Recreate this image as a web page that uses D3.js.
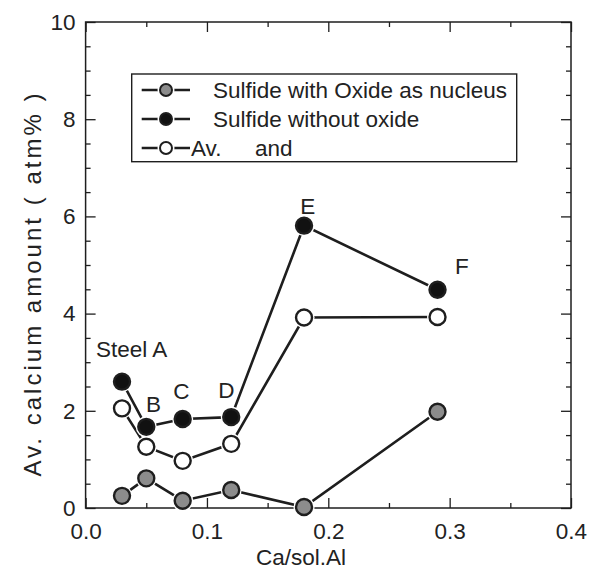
<!DOCTYPE html>
<html>
<head>
<meta charset="utf-8">
<script src="https://cdn.jsdelivr.net/npm/d3@7"></script>
<style>
  body { margin: 0; background: #fff; }
  text { font-family: "Liberation Sans", Arial, sans-serif; fill: #222; }
</style>
</head>
<body>
<div id="chart"></div>
<script>
// data
const xVals = [0.03, 0.05, 0.08, 0.12, 0.18, 0.29]
const withOxide = [0.25, 0.61, 0.15, 0.37, 0.02, 1.98]
const withoutOxide = [2.60, 1.67, 1.83, 1.87, 5.81, 4.49]
const average = [2.05, 1.26, 0.97, 1.32, 3.92, 3.93]
const steelNames = ['Steel A', 'B', 'C', 'D', 'E', 'F']
const steelLabelX = [0.038, 0.056, 0.079, 0.116, 0.183, 0.31]
const steelLabelY = [3.1, 1.98, 2.25, 2.26, 6.05, 4.82]
const xMajor = [0.0, 0.1, 0.2, 0.3, 0.4]
const xMinor = [0.05, 0.15, 0.25, 0.35]
const yMajor = [0, 2, 4, 6, 8, 10]
const yMinor = [0.5, 1, 1.5, 2.5, 3, 3.5, 4.5, 5, 5.5, 6.5, 7, 7.5, 8.5, 9, 9.5]

const W = 589, H = 570
const margin = { top: 22, right: 18, bottom: 62, left: 85.6 }
const ink = '#1e1e1e'

const svg = d3.select('#chart').append('svg')
    .attr('width', W)
    .attr('height', H)

const xScale = d3.scaleLinear()
    .domain([0, 0.4])
    .range([margin.left, W - margin.right])

const yScale = d3.scaleLinear()
    .domain([0, 10])
    .range([H - margin.bottom, margin.top])

const fontSize = 22.5

// axes, ticks pointing inward
function styleAxis(g) {
    g.select('.domain').remove()
    g.selectAll('line').attr('stroke', ink).attr('stroke-width', 1.3)
    g.selectAll('text').style('font-size', fontSize + 'px').attr('fill', '#222')
}
const y0 = yScale(0), x0 = xScale(0), x1 = xScale(0.4), y1 = yScale(10)

svg.append('g').attr('transform', `translate(0,${y0})`)
    .call(d3.axisBottom(xScale).tickValues(xMajor).tickSizeInner(-10).tickSizeOuter(0)
        .tickPadding(15).tickFormat(d3.format('.1f')))
    .call(styleAxis)
svg.append('g').attr('transform', `translate(0,${y0})`)
    .call(d3.axisBottom(xScale).tickValues(xMinor).tickSizeInner(-5).tickSizeOuter(0).tickFormat(''))
    .call(styleAxis)
svg.append('g').attr('transform', `translate(0,${y1})`)
    .call(d3.axisTop(xScale).tickValues(xMajor).tickSizeInner(-10).tickSizeOuter(0).tickFormat(''))
    .call(styleAxis)
svg.append('g').attr('transform', `translate(0,${y1})`)
    .call(d3.axisTop(xScale).tickValues(xMinor).tickSizeInner(-5).tickSizeOuter(0).tickFormat(''))
    .call(styleAxis)

svg.append('g').attr('transform', `translate(${x0},0)`)
    .call(d3.axisLeft(yScale).tickValues(yMajor).tickSizeInner(-10).tickSizeOuter(0)
        .tickPadding(10).tickFormat(d3.format('d')))
    .call(styleAxis)
svg.append('g').attr('transform', `translate(${x0},0)`)
    .call(d3.axisLeft(yScale).tickValues(yMinor).tickSizeInner(-5).tickSizeOuter(0).tickFormat(''))
    .call(styleAxis)
svg.append('g').attr('transform', `translate(${x1},0)`)
    .call(d3.axisRight(yScale).tickValues(yMajor).tickSizeInner(-10).tickSizeOuter(0).tickFormat(''))
    .call(styleAxis)
svg.append('g').attr('transform', `translate(${x1},0)`)
    .call(d3.axisRight(yScale).tickValues(yMinor).tickSizeInner(-5).tickSizeOuter(0).tickFormat(''))
    .call(styleAxis)

// frame
svg.append('rect')
    .attr('x', x0).attr('y', y1)
    .attr('width', x1 - x0).attr('height', y0 - y1)
    .attr('fill', 'none').attr('stroke', ink).attr('stroke-width', 1.5)

// axis titles
svg.append('text')
    .attr('x', 301).attr('y', 565)
    .attr('text-anchor', 'middle')
    .style('font-size', fontSize + 'px')
    .text('Ca/sol.Al')

svg.append('text')
    .attr('transform', 'translate(41,285) rotate(-90)')
    .attr('text-anchor', 'middle')
    .attr('textLength', 383)
    .attr('lengthAdjust', 'spacing')
    .style('font-size', '24px')
    .text('Av. calcium amount ( atm% )')

// series
const series = [
    { values: withOxide, fill: '#8c8c8c' },
    { values: average, fill: '#ffffff' },
    { values: withoutOxide, fill: '#111111' }
]
const line = d3.line()
    .x(d => xScale(d[0]))
    .y(d => yScale(d[1]))

const r = 8
series.forEach(s => {
    const pts = xVals.map((x, i) => [x, s.values[i]])
    svg.append('path')
        .datum(pts)
        .attr('d', line)
        .attr('fill', 'none')
        .attr('stroke', ink)
        .attr('stroke-width', 2.6)
})
series.forEach(s => {
    const pts = xVals.map((x, i) => [x, s.values[i]])
    const g = svg.append('g')
    g.selectAll('.halo').data(pts).join('circle')
        .attr('cx', d => xScale(d[0])).attr('cy', d => yScale(d[1]))
        .attr('r', r + 2.5).attr('fill', '#fff')
    g.selectAll('.dot').data(pts).join('circle')
        .attr('cx', d => xScale(d[0])).attr('cy', d => yScale(d[1]))
        .attr('r', r).attr('fill', s.fill)
        .attr('stroke', ink).attr('stroke-width', 2.4)
})

// steel labels
svg.selectAll('.steel').data(steelNames).join('text')
    .attr('x', (d, i) => xScale(steelLabelX[i]))
    .attr('y', (d, i) => yScale(steelLabelY[i]))
    .attr('text-anchor', 'middle')
    .style('font-size', fontSize + 'px')
    .text(d => d)

// legend
const legend = svg.append('g')
svg.append('rect')
    .attr('x', 131.7).attr('y', 74)
    .attr('width', 385).attr('height', 87.7)
    .attr('fill', 'none').attr('stroke', ink).attr('stroke-width', 1.4)

const legendRows = [
    { fill: '#8c8c8c', label: 'Sulfide with Oxide as nucleus', tx: 213 },
    { fill: '#111111', label: 'Sulfide without oxide', tx: 213 },
    { fill: '#ffffff', label: 'Av.', tx: 191 }
]
legendRows.forEach((row, i) => {
    const cy = 90 + i * 29
    legend.append('line')
        .attr('x1', 141.7).attr('x2', 190)
        .attr('y1', cy).attr('y2', cy)
        .attr('stroke', ink).attr('stroke-width', 2.4)
    legend.append('circle')
        .attr('cx', 166).attr('cy', cy).attr('r', 8.5).attr('fill', '#fff')
    legend.append('circle')
        .attr('cx', 166).attr('cy', cy).attr('r', 6)
        .attr('fill', row.fill).attr('stroke', ink).attr('stroke-width', 2)
    legend.append('text')
        .attr('x', row.tx).attr('y', cy + 8)
        .style('font-size', fontSize + 'px')
        .text(row.label)
})
legend.append('text')
    .attr('x', 255).attr('y', 90 + 2 * 29 + 8)
    .style('font-size', fontSize + 'px')
    .text('and')
</script>
</body>
</html>
